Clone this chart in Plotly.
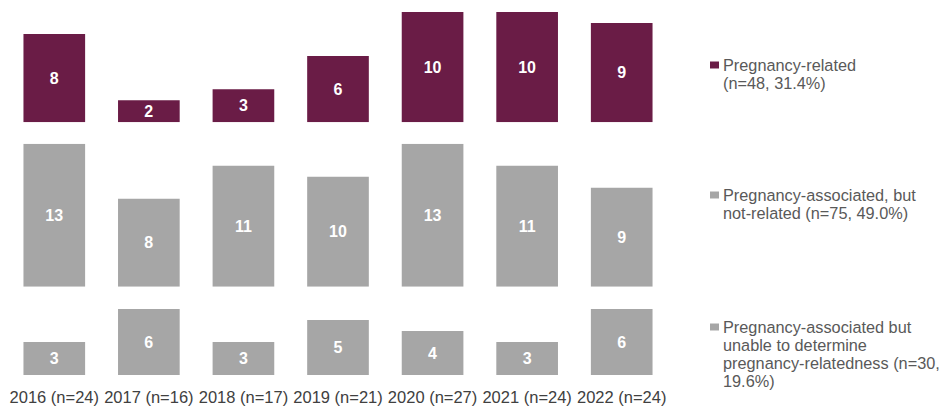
import plotly.graph_objects as go
from plotly.subplots import make_subplots

categories = ["2016 (n=24)", "2017 (n=16)", "2018 (n=17)", "2019 (n=21)",
              "2020 (n=27)", "2021 (n=24)", "2022 (n=24)"]
related = [8, 2, 3, 6, 10, 10, 9]
associated_not_related = [13, 8, 11, 10, 13, 11, 9]
unable_to_determine = [3, 6, 3, 5, 4, 3, 6]

series_names = ["Pregnancy-related",
                "Pregnancy-associated, but not-related",
                "Pregnancy-associated but unable to determine pregnancy-relatedness"]
legend_lines = [
    ["Pregnancy-related", "(n=48, 31.4%)"],
    ["Pregnancy-associated, but", "not-related (n=75, 49.0%)"],
    ["Pregnancy-associated but", "unable to determine",
     "pregnancy-relatedness (n=30,", "19.6%)"],
]

MAROON = "#6a1c46"
GRAY = "#a6a6a6"
colors = [MAROON, GRAY, GRAY]
values = [related, associated_not_related, unable_to_determine]

W, H = 943, 407
L, R, T, B = 7, 274, 12, 32
PW, PH = W - L - R, H - T - B

def px_x(px):
    return (px - L) / PW

def px_y(py):
    return (H - B - py) / PH

fig = make_subplots(rows=3, cols=1, shared_xaxes=True, vertical_spacing=0.02)

for i, (vals, col, name) in enumerate(zip(values, colors, series_names)):
    fig.add_trace(go.Bar(
        x=categories, y=vals, name=name, marker=dict(color=col, line=dict(width=0)),
        text=[str(v) for v in vals], textposition="inside", insidetextanchor="middle",
        constraintext="none",
        textfont=dict(family="Liberation Sans, Arial", size=16, color="white", weight="bold"),
        textangle=0, showlegend=False, hoverinfo="x+y",
    ), row=i + 1, col=1)

# panel domains: 11 px per unit, bottom aligned
fig.update_layout(
    yaxis=dict(domain=[px_y(122.3), 1.0], range=[0, 10]),
    yaxis2=dict(domain=[px_y(286.7), px_y(286.7 - 143)], range=[0, 13]),
    yaxis3=dict(domain=[0, px_y(375 - 66)], range=[0, 6]),
)
for i in range(1, 4):
    fig.update_yaxes(visible=False, fixedrange=True, automargin=False, row=i, col=1)
    fig.update_xaxes(showgrid=False, zeroline=False, showline=False, automargin=False,
                     range=[-0.5, 6.5], row=i, col=1)
fig.update_xaxes(showticklabels=False, row=1, col=1)
fig.update_xaxes(showticklabels=False, row=2, col=1)
fig.update_xaxes(showticklabels=True, ticks="outside", ticklen=7, tickcolor="rgba(0,0,0,0)",
                 tickfont=dict(family="Liberation Sans, Arial", size=16.5, color="#404040"),
                 row=3, col=1)

# custom legend
legend_square_y = [65, 195, 327]
for lines, col, sy in zip(legend_lines, colors, legend_square_y):
    fig.add_shape(type="rect", xref="paper", yref="paper",
                  x0=px_x(710), x1=px_x(719), y0=px_y(sy + 3.5), y1=px_y(sy - 3.5),
                  fillcolor=col, line=dict(width=0))
    for k, line in enumerate(lines):
        fig.add_annotation(text=line, xref="paper", yref="paper",
                           x=px_x(721), y=px_y(sy + 18 * k), xanchor="left", yanchor="middle",
                           showarrow=False,
                           font=dict(family="Liberation Sans, Arial", size=16.3, color="#595959"))

fig.update_layout(
    width=W, height=H, margin=dict(l=L, r=R, t=T, b=B, autoexpand=False),
    paper_bgcolor="white", plot_bgcolor="white", bargap=0.348,
    uniformtext=dict(mode=False),
)

fig.write_html("out.html", config={"displayModeBar": False},
               post_script="document.body.style.margin='0';document.body.style.overflow='hidden';")
